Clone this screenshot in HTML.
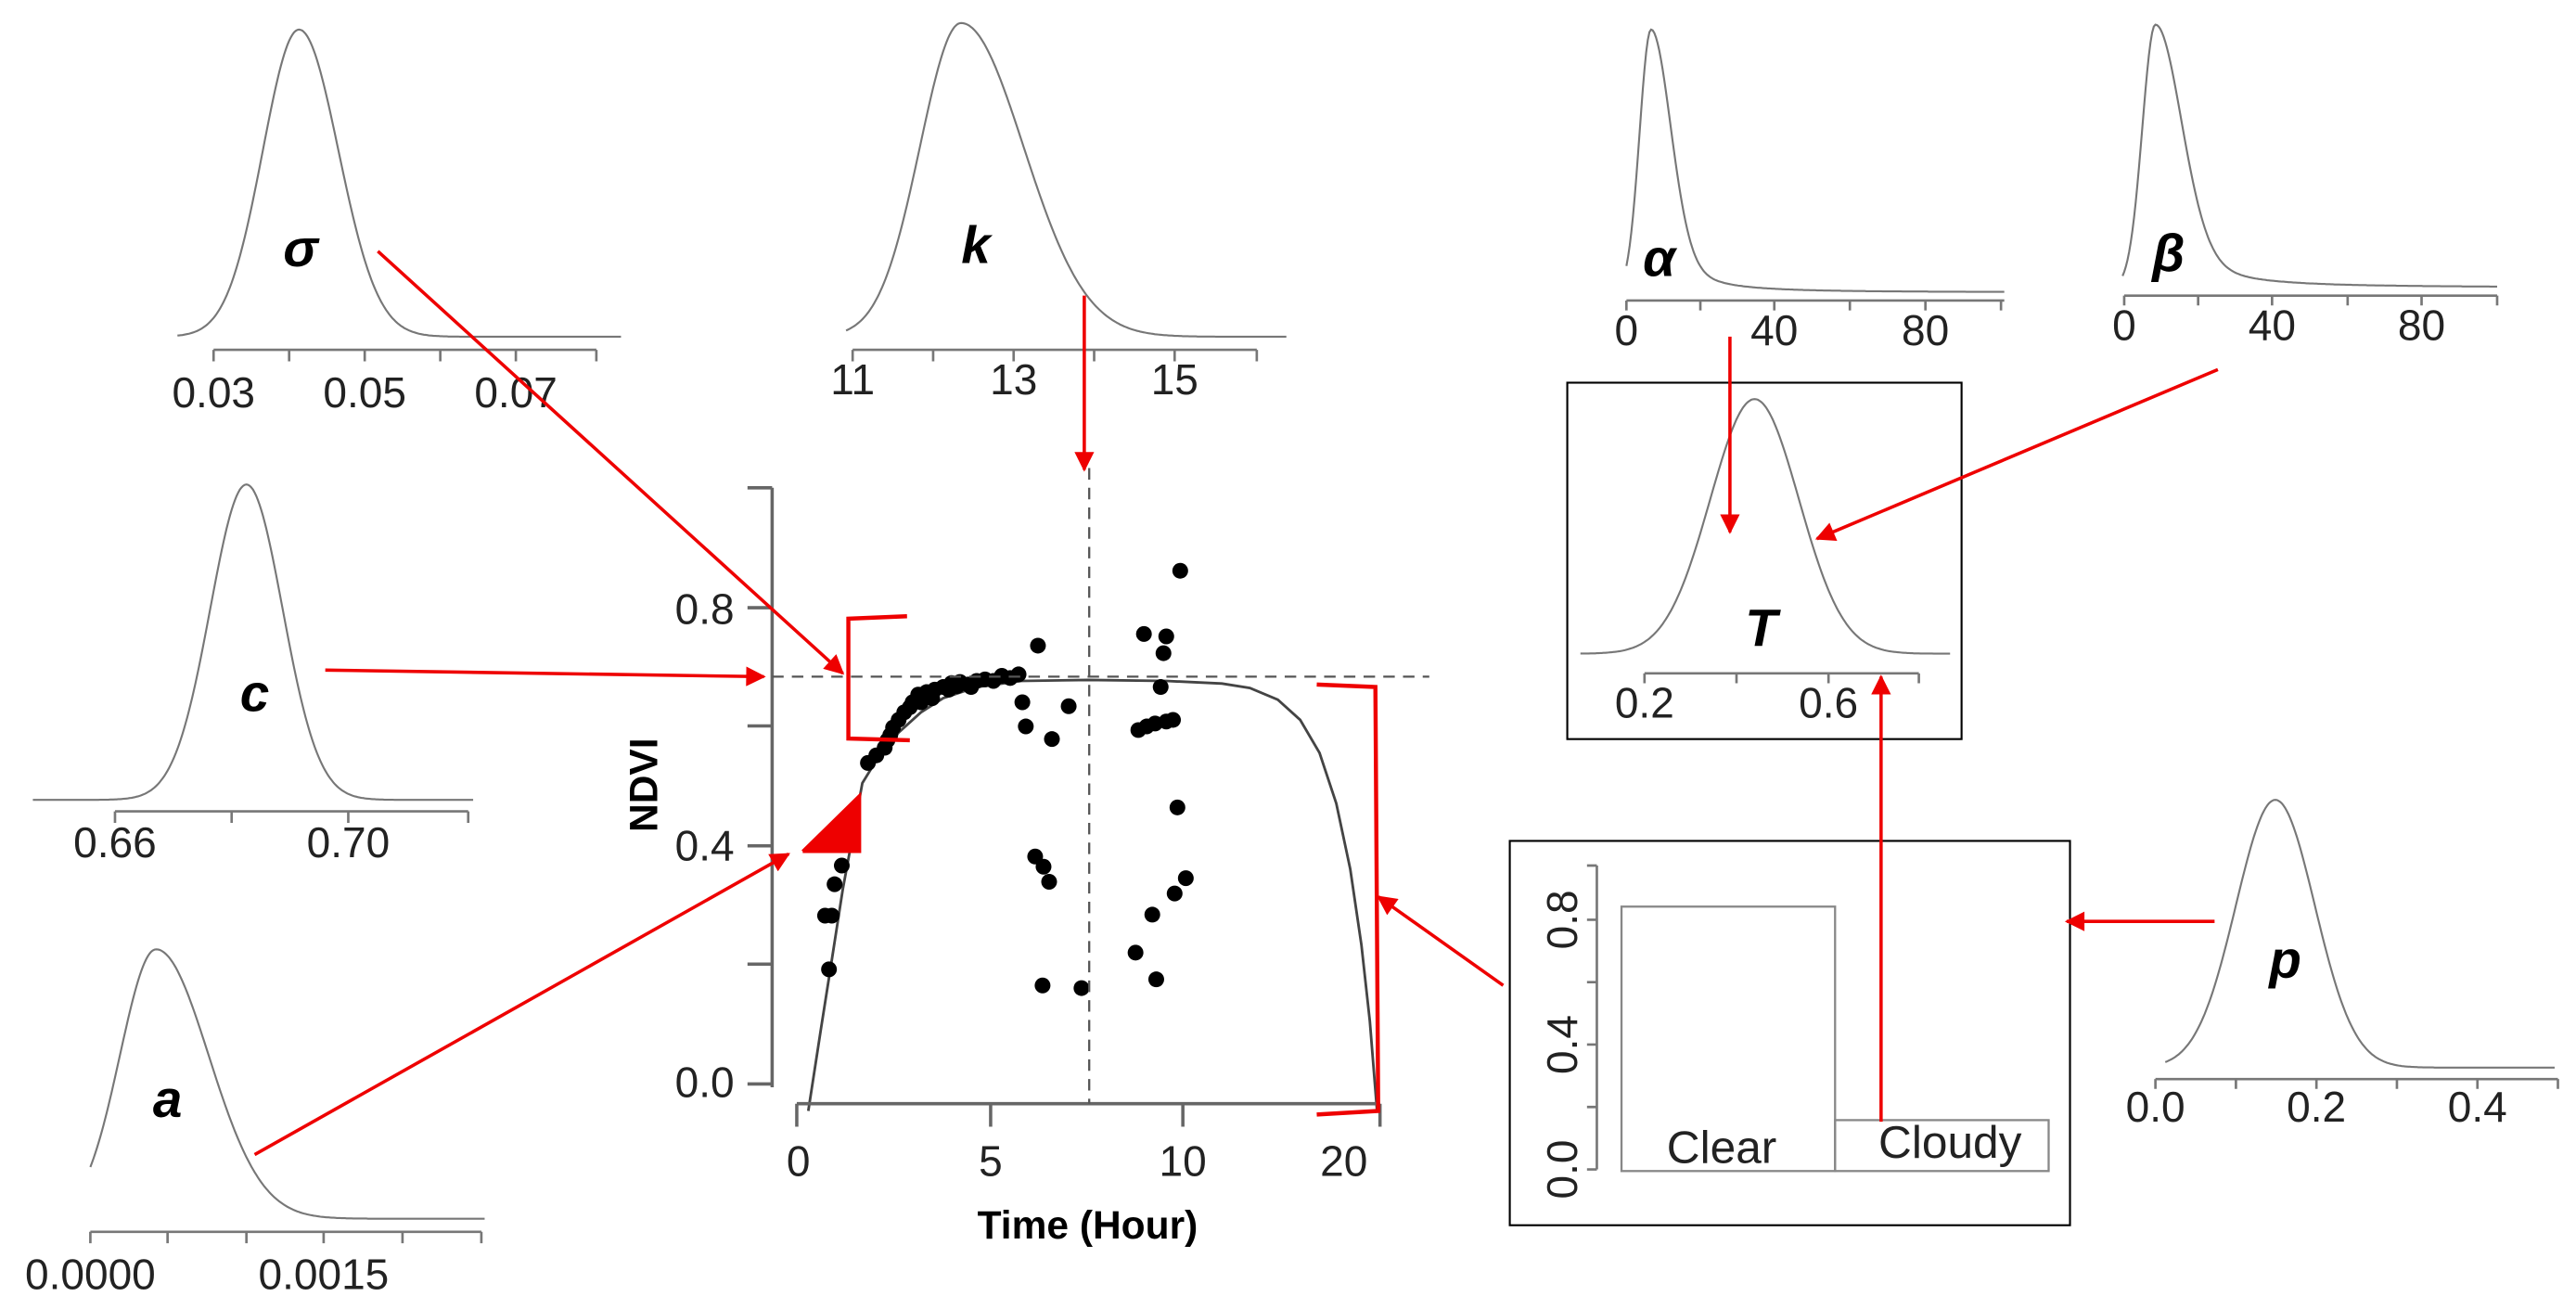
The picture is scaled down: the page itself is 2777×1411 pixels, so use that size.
<!DOCTYPE html>
<html><head><meta charset="utf-8"><style>
html,body{margin:0;padding:0;background:#fff;}
svg{display:block;}
text{font-family:"Liberation Sans",sans-serif;}
.ax{font-size:26px;fill:#222;}
.gr{font-size:32px;font-weight:bold;font-style:italic;fill:#000;}
</style></head><body>
<svg id="s" width="2777" height="1411" viewBox="0 0 1568 797" preserveAspectRatio="none" xmlns="http://www.w3.org/2000/svg">
<defs>
<marker id="ah2" viewBox="0 0 10 10" refX="9" refY="5" markerWidth="14" markerHeight="12" orient="auto" markerUnits="userSpaceOnUse"><path d="M0,0 L10,5 L0,10 z" fill="#e00"/></marker></defs>
<g id="curves" fill="none" stroke="#777" stroke-width="1.2"></g>
<g id="axes" fill="none" stroke="#777" stroke-width="1.5"></g>
<g id="pts" fill="#000"></g>

<text class="ax" x="130" y="248" text-anchor="middle">0.03</text>
<text class="ax" x="222" y="248" text-anchor="middle">0.05</text>
<text class="ax" x="314" y="248" text-anchor="middle">0.07</text>
<text class="gr" x="183" y="162" text-anchor="middle">σ</text>

<text class="ax" x="519" y="240" text-anchor="middle">11</text>
<text class="ax" x="617" y="240" text-anchor="middle">13</text>
<text class="ax" x="715" y="240" text-anchor="middle">15</text>
<text class="gr" x="594" y="160" text-anchor="middle">k</text>

<text class="ax" x="70" y="522" text-anchor="middle">0.66</text>
<text class="ax" x="212" y="522" text-anchor="middle">0.70</text>
<text class="gr" x="155" y="433" text-anchor="middle">c</text>

<text class="ax" x="55" y="785" text-anchor="middle">0.0000</text>
<text class="ax" x="197" y="785" text-anchor="middle">0.0015</text>
<text class="gr" x="102" y="680" text-anchor="middle">a</text>

<text class="ax" x="990" y="210" text-anchor="middle">0</text>
<text class="ax" x="1080" y="210" text-anchor="middle">40</text>
<text class="ax" x="1172" y="210" text-anchor="middle">80</text>
<text class="gr" x="1010" y="168" text-anchor="middle">α</text>

<text class="ax" x="1293" y="207" text-anchor="middle">0</text>
<text class="ax" x="1383" y="207" text-anchor="middle">40</text>
<text class="ax" x="1474" y="207" text-anchor="middle">80</text>
<text class="gr" x="1320" y="165" text-anchor="middle">β</text>

<rect x="954" y="233" width="240" height="217" fill="none" stroke="#000" stroke-width="1.2"/>
<text class="ax" x="1001" y="437" text-anchor="middle">0.2</text>
<text class="ax" x="1113" y="437" text-anchor="middle">0.6</text>
<text class="gr" x="1072" y="393" text-anchor="middle">T</text>

<text class="ax" x="1312" y="683" text-anchor="middle">0.0</text>
<text class="ax" x="1410" y="683" text-anchor="middle">0.2</text>
<text class="ax" x="1508" y="683" text-anchor="middle">0.4</text>
<text class="gr" x="1391" y="595" text-anchor="middle">p</text>

<rect x="919" y="512" width="341" height="234" fill="none" stroke="#000" stroke-width="1.2"/>
<rect x="987" y="552" width="130" height="161" fill="none" stroke="#888" stroke-width="1.3"/>
<rect x="1117" y="682" width="130" height="31" fill="none" stroke="#888" stroke-width="1.3"/>
<text class="ax" x="1048" y="708" text-anchor="middle" style="font-size:28px">Clear</text>
<text class="ax" x="1187" y="705" text-anchor="middle" style="font-size:28px">Cloudy</text>
<text class="ax" transform="translate(960,712) rotate(-90)" text-anchor="middle">0.0</text>
<text class="ax" transform="translate(960,636) rotate(-90)" text-anchor="middle">0.4</text>
<text class="ax" transform="translate(960,560) rotate(-90)" text-anchor="middle">0.8</text>

<text class="ax" x="447" y="380" text-anchor="end">0.8</text>
<text class="ax" x="447" y="524" text-anchor="end">0.4</text>
<text class="ax" x="447" y="668" text-anchor="end">0.0</text>
<text class="ax" x="486" y="716" text-anchor="middle">0</text>
<text class="ax" x="603" y="716" text-anchor="middle">5</text>
<text class="ax" x="720" y="716" text-anchor="middle">10</text>
<text class="ax" x="818" y="716" text-anchor="middle">20</text>
<text x="662" y="754" text-anchor="middle" style="font-size:24px;font-weight:bold">Time (Hour)</text>
<text transform="translate(400,478) rotate(-90)" text-anchor="middle" style="font-size:24px;font-weight:bold">NDVI</text>

<line x1="470" y1="412" x2="870" y2="412" stroke="#555" stroke-width="1.3" stroke-dasharray="7,5"/>
<line x1="663" y1="285" x2="663" y2="672" stroke="#555" stroke-width="1.3" stroke-dasharray="7,5"/>

<g id="red" fill="none" stroke="#e00" stroke-width="2">
<line x1="230" y1="153" x2="513" y2="410" marker-end="url(#ah2)"/>
<line x1="198" y1="408" x2="465" y2="412" marker-end="url(#ah2)"/>
<line x1="155" y1="703" x2="480" y2="520" marker-end="url(#ah2)"/>
<line x1="915" y1="600" x2="839" y2="546" marker-end="url(#ah2)"/>
<line x1="660" y1="180" x2="660" y2="286" marker-end="url(#ah2)"/>
<line x1="1053" y1="205" x2="1053" y2="324" marker-end="url(#ah2)"/>
<line x1="1350" y1="225" x2="1106" y2="328" marker-end="url(#ah2)"/>
<line x1="1145" y1="683" x2="1145" y2="412" marker-end="url(#ah2)"/>
<line x1="1348" y1="561" x2="1258" y2="561" marker-end="url(#ah2)"/>
</g>
</svg>
<script>
var NS="http://www.w3.org/2000/svg";
function el(p,t,a){var e=document.createElementNS(NS,t);for(var k in a)e.setAttribute(k,a[k]);document.getElementById(p).appendChild(e);return e;}
function dist(x0,x1,base,px,py,sl,sr,tail){var d="";for(var x=x0;x<=x1;x+=1){var u=x-px,f;
 if(u<0)f=Math.exp(-u*u/(2*sl*sl));else if(tail){f=Math.exp(-u*u/(2*sr*sr))*0.75+0.25/(1+Math.pow(u/(sr*1.5),2));}else f=Math.exp(-u*u/(2*sr*sr));
 var y=base-(base-py)*f;d+=(d?"L":"M")+x+","+y.toFixed(1);}el("curves","path",{d:d});}
function axis(y,x0,x1,ticks,len){var d="M"+x0+","+y+"L"+x1+","+y;ticks.forEach(function(t){d+="M"+t+","+y+"L"+t+","+(y-len);});el("axes","path",{d:d});}
dist(108,378,205,182,18,22,24);axis(213,130,363,[130,176,222,268,314,363],-7);
dist(515,783,205,585,14,25,38);axis(213,519,765,[519,568,617,666,715,765],-7);
dist(20,288,487,150,295,22,22);axis(494,70,285,[70,141,212,285],-7);
dist(55,295,742,95,578,22,32);axis(750,55,293,[55,102,150,197,245,293],-7);
dist(990,1220,178,1005,18,7,12,true);axis(183,990,1220,[990,1035,1080,1126,1172,1218],-6);
dist(1292,1520,175,1312,15,8,16,true);axis(180,1293,1520,[1293,1338,1383,1429,1474,1520],-6);
dist(962,1187,398,1068,243,27,27);axis(410,1001,1168,[1001,1057,1113,1168],-6);
dist(1318,1555,650,1385,487,24,24);axis(657,1312,1557,[1312,1361,1410,1459,1508,1557],-6);
el("axes","path",{d:"M972,527L972,712M972,712L966,712M972,674L966,674M972,636L966,636M972,598L966,598M972,560L966,560M972,527L966,527"});
el("axes","path",{d:"M470,297L470,662 M455,297L470,297 M455,370L470,370 M455,442L470,442 M455,515L470,515 M455,587L470,587 M455,660L470,660",stroke:"#666","stroke-width":"2"});
el("axes","path",{d:"M485,672L840,672 M485,672L485,686 M603,672L603,686 M720,672L720,686 M840,672L840,686",stroke:"#666","stroke-width":"2"});
function P(zx,zy){return [370.5+0.3394*zx,282.8+0.308*zy];}
var cz=[[358,1278],[380,1120],[400,980],[420,840],[440,720],[455,630],[480,585],[520,530],[560,490],[600,462],[660,440],[740,428],[860,426],[1000,428],[1100,433],[1150,442],[1200,465],[1240,505],[1275,570],[1305,670],[1330,800],[1350,950],[1365,1100],[1378,1278]];
var d="";cz.forEach(function(p,i){var q=P(p[0],p[1]);d+=(i?"L":"M")+q[0].toFixed(1)+","+q[1].toFixed(1);});
el("curves","path",{d:d,stroke:"#444","stroke-width":"1.6"});
var pts=[[395,998],[388,892],[400,892],[405,830],[418,793],[465,590],[480,575],[495,560],[500,545],[510,520],[520,505],[530,490],[545,470],[555,455],[570,450],[585,445],[600,440],[615,432],[630,430],[645,435],[660,428],[675,425],[690,428],[705,418],[720,422],[735,415],[742,470],[748,518],[770,358],[795,543],[825,478],[765,775],[780,795],[790,825],[778,1030],[848,1035],[960,335],[1000,340],[995,373],[990,440],[950,525],[965,518],[980,512],[1000,508],[1012,505],[1025,210],[1020,678],[1035,818],[1015,848],[975,890],[945,965],[982,1018],[505,535],[540,480],[575,455],[610,445],[625,438],[650,440],[580,462],[560,470]];
pts.forEach(function(p){var q=P(p[0],p[1]);el("pts","ellipse",{cx:q[0].toFixed(1),cy:q[1].toFixed(1),rx:4.8,ry:4.8});});
function poly(a,attrs){var d="";a.forEach(function(p,i){var q=P(p[0],p[1]);d+=(i?"L":"M")+q[0].toFixed(1)+","+q[1].toFixed(1);});attrs.d=d;return el("red","path",attrs);}
poly([[535,300],[430,305],[430,542],[540,545]],{"stroke-width":"2.5"});
poly([[1270,435],[1375,440],[1380,1278],[1270,1285]],{"stroke-width":"2.5"});
poly([[348,765],[450,765],[450,655],[348,765]],{fill:"#e00",stroke:"#e00"});
</script>
</body></html>
